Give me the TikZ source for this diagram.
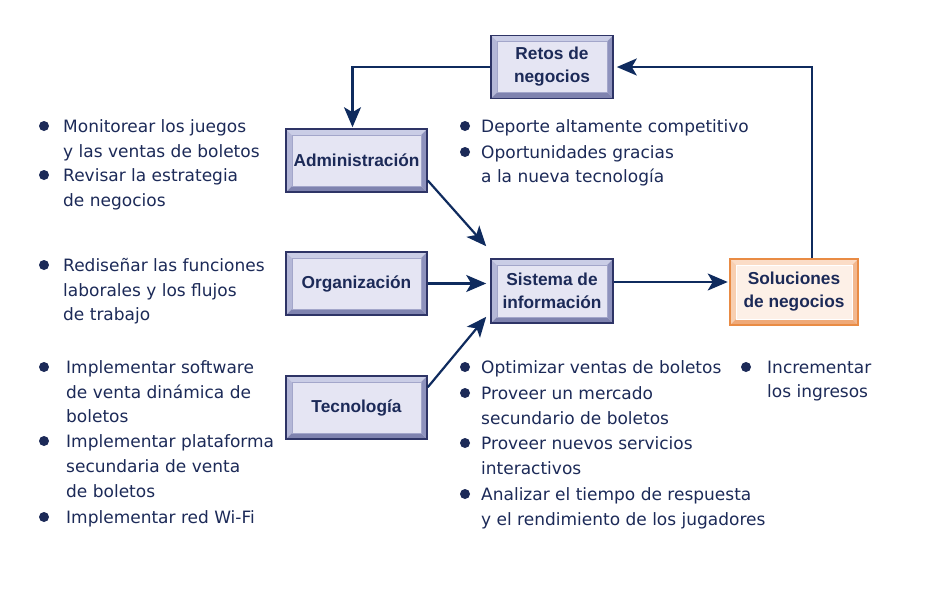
\documentclass[tikz,border=0pt]{standalone}
\usepackage{fontspec}
\setmainfont{DejaVu Sans}
\newfontfamily\labfont{Liberation Sans}
\usetikzlibrary{arrows.meta,calc}
\definecolor{ink}{HTML}{1C2A58}
\definecolor{arr}{HTML}{0F2B5E}
\definecolor{bbord}{HTML}{2E3466}
\definecolor{bface}{HTML}{E5E5F3}
\definecolor{btop}{HTML}{CACDE6}
\definecolor{bleft}{HTML}{B4B7D7}
\definecolor{bright}{HTML}{8E92BD}
\definecolor{bbot}{HTML}{7F83AF}
\definecolor{bline}{HTML}{A3A6CA}
\definecolor{oord}{HTML}{E98B44}
\definecolor{oface}{HTML}{FDF0E7}
\definecolor{otop}{HTML}{FBDCC6}
\definecolor{oleft}{HTML}{F8CFB1}
\definecolor{oright}{HTML}{F2B890}
\definecolor{obot}{HTML}{EFA978}
\definecolor{oline}{HTML}{FFFFFF}
\tikzset{
  bevel/.style n args={6}{
    path picture={
      \def\bw{6pt}
      \fill[#2] (path picture bounding box.north west) -- (path picture bounding box.north east)
        -- ([shift={(-\bw,-\bw)}]path picture bounding box.north east)
        -- ([shift={(\bw,-\bw)}]path picture bounding box.north west) -- cycle;
      \fill[#3] (path picture bounding box.north west) -- (path picture bounding box.south west)
        -- ([shift={(\bw,\bw)}]path picture bounding box.south west)
        -- ([shift={(\bw,-\bw)}]path picture bounding box.north west) -- cycle;
      \fill[#4] (path picture bounding box.north east) -- (path picture bounding box.south east)
        -- ([shift={(-\bw,\bw)}]path picture bounding box.south east)
        -- ([shift={(-\bw,-\bw)}]path picture bounding box.north east) -- cycle;
      \fill[#5] (path picture bounding box.south west) -- (path picture bounding box.south east)
        -- ([shift={(-\bw,\bw)}]path picture bounding box.south east)
        -- ([shift={(\bw,\bw)}]path picture bounding box.south west) -- cycle;
      \filldraw[fill=#1, draw=#6, line width=0.8pt]
        ([shift={(\bw,\bw)}]path picture bounding box.south west) rectangle
        ([shift={(-\bw,-\bw)}]path picture bounding box.north east);
    }},
  bluebox/.style={draw=bbord, line width=1.6pt, inner sep=0pt, align=center, text=ink,
    font=\labfont\bfseries\fontsize{17.3}{23}\selectfont,
    bevel={bface}{btop}{bleft}{bright}{bbot}{bline}},
  orangebox/.style={draw=oord, line width=1.6pt, inner sep=0pt, align=center, text=ink,
    font=\labfont\bfseries\fontsize{17.3}{23}\selectfont,
    bevel={oface}{otop}{oleft}{oright}{obot}{oline}},
  txt/.style={anchor=base west, inner sep=0pt, text=ink, font=\fontsize{17}{25}\selectfont},
  dot/.style={circle, fill=ink, inner sep=0pt, minimum size=10pt},
  conn/.style={draw=arr, line width=2.2pt, -{Stealth[length=20pt,width=17pt,inset=5pt]}}
}
\begin{document}
\begin{tikzpicture}[x=1pt,y=-1pt]
\useasboundingbox[fill=white] (0,0) rectangle (932,603);

\node[bluebox, minimum width=122pt, minimum height=63pt] (retos) at (552,67) {Retos de\\negocios};
\node[bluebox, minimum width=141pt, minimum height=63pt] (admin) at (356.5,160.5) {Administración};
\node[bluebox, minimum width=141pt, minimum height=63pt] (org) at (356.5,283.5) {Organización};
\node[bluebox, minimum width=141pt, minimum height=63pt] (tec) at (356.5,407.5) {Tecnología};
\node[bluebox, minimum width=122pt, minimum height=64pt] (sis) at (552,291) {Sistema de\\información};
\node[orangebox, minimum width=128pt, minimum height=66pt] (sol) at (794,292) {Soluciones\\de negocios};

\draw[conn, shorten >=1pt] (retos.west) -| ([xshift=-4pt]admin.north);
\draw[conn, shorten >=3pt] ([xshift=18pt]sol.north) |- (retos.east);
\draw[conn] ([yshift=-20pt]admin.east) -- ([shift={(-4pt,12pt)}]sis.north west);
\draw[conn, shorten >=4pt] (org.east) -- (org.east -| sis.west);
\draw[conn] ([yshift=-12pt]tec.north east) -- ([shift={(-4pt,7pt)}]sis.south west);
\draw[conn, shorten >=1.5pt] ([yshift=9pt]sis.east) -- ([yshift=9pt]sis.east -| sol.west);

\foreach \x/\y [count=\i] in {44/126,44/175,44/265,44/367,44/441,44/517,465/126,465/152,465/367,465/393,465/443,465/494,746/367}
  \node[dot] (d\i) at (\x,\y) {};

\foreach \x/\y/\t [count=\i] in {
  63/132/{Monitorear los juegos},
  63/157/{y las ventas de boletos},
  63/181/{Revisar la estrategia},
  63/206/{de negocios},
  63/271/{Rediseñar las funciones},
  63/296/{laborales y los flujos},
  63/320/{de trabajo},
  66/373/{Implementar software},
  66/398/{de venta dinámica de},
  66/422/{boletos},
  66/447/{Implementar plataforma},
  66/472/{secundaria de venta},
  66/497/{de boletos},
  66/523/{Implementar red Wi-Fi},
  481/132/{Deporte altamente competitivo},
  481/158/{Oportunidades gracias},
  481/182/{a la nueva tecnología},
  481/373/{Optimizar ventas de boletos},
  481/399/{Proveer un mercado},
  481/424/{secundario de boletos},
  481/449/{Proveer nuevos servicios},
  481/474/{interactivos},
  481/500/{Analizar el tiempo de respuesta},
  481/525/{y el rendimiento de los jugadores},
  767/373/{Incrementar},
  767/397/{los ingresos}}
  \node[txt] (t\i) at (\x,\y) {\t};
\end{tikzpicture}
\end{document}
